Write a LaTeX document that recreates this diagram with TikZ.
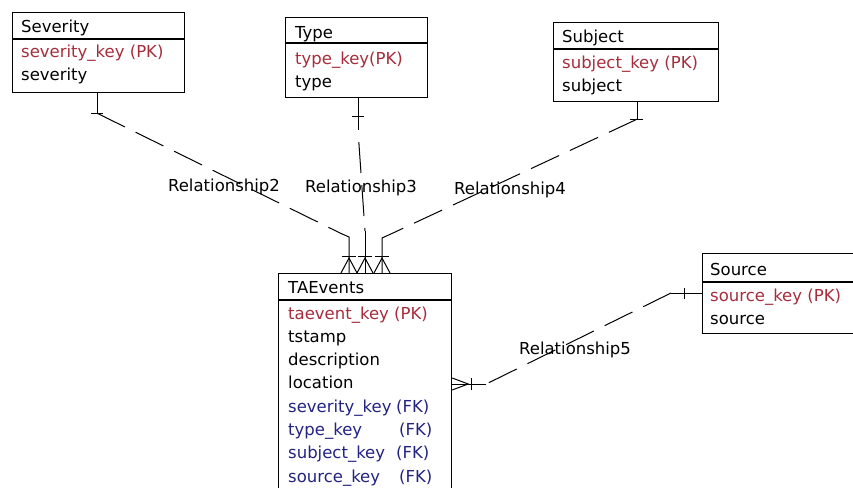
\documentclass[tikz,border=0pt]{standalone}
\usepackage{fontspec}
\setmainfont{DejaVu Sans}
\usetikzlibrary{calc}
\definecolor{pkred}{RGB}{165,45,60}
\definecolor{fkblue}{RGB}{35,35,130}
\begin{document}
\begin{tikzpicture}[x=1pt,y=-1pt,
  ent/.style={draw, line width=1.2pt, anchor=north west, inner sep=0pt},
  sepline/.style={line width=1.2pt},
  txt/.style={anchor=base west, inner sep=0pt, font=\fontsize{16.5}{18}\selectfont},
  pk/.style={txt, text=pkred},
  fk/.style={txt, text=fkblue},
  rel/.style={line width=1pt, dash pattern=on 31pt off 12pt},
  solidl/.style={line width=1pt},
  lab/.style={inner sep=0pt, font=\fontsize{16.5}{18}\selectfont}]
\useasboundingbox (0,0) rectangle (853,487);
\fill[white] (0,0) rectangle (853,487);
\clip (0,0) rectangle (853,487);

% ---------- entities ----------
\node[ent, minimum width=172pt, minimum height=80pt] (sev) at (12,12) {};
\draw[sepline] ($(sev.north west)+(0,27)$) -- ($(sev.north east)+(0,27)$);
\node[txt] (sevh) at (21,33) {Severity};
\node[pk]  (sev1) at (21,58) {severity\_key (PK)};
\node[txt] (sev2) at (21,81) {severity};

\node[ent, minimum width=142pt, minimum height=80pt] (typ) at (285,17) {};
\draw[sepline] ($(typ.north west)+(0,26)$) -- ($(typ.north east)+(0,26)$);
\node[txt] (typh) at (295,38) {Type};
\node[pk]  (typ1) at (295,64) {type\_key(PK)};
\node[txt] (typ2) at (295,87) {type};

\node[ent, minimum width=165pt, minimum height=79pt] (sub) at (553,22) {};
\draw[sepline] ($(sub.north west)+(0,27)$) -- ($(sub.north east)+(0,27)$);
\node[txt] (subh) at (562,42) {Subject};
\node[pk]  (sub1) at (562,68) {subject\_key (PK)};
\node[txt] (sub2) at (562,91) {subject};

\node[ent, minimum width=173pt, minimum height=230pt] (tae) at (278,273) {};
\draw[sepline] ($(tae.north west)+(0,27)$) -- ($(tae.north east)+(0,27)$);
\node[txt] (taeh) at (288,293) {TAEvents};
\node[pk]  (tae1) at (288,319) {taevent\_key (PK)};
\node[txt] (tae2) at (288,342) {tstamp};
\node[txt] (tae3) at (288,365) {description};
\node[txt] (tae4) at (288,388) {location};
\node[fk]  (tae5) at (288,412) {severity\_key};
\node[fk]  (tae5b) at (396,412) {(FK)};
\node[fk]  (tae6) at (288,435) {type\_key};
\node[fk]  (tae6b) at (399,435) {(FK)};
\node[fk]  (tae7) at (288,458) {subject\_key};
\node[fk]  (tae7b) at (396,458) {(FK)};
\node[fk]  (tae8) at (288,482) {source\_key};
\node[fk]  (tae8b) at (399,482) {(FK)};

\node[ent, minimum width=170pt, minimum height=80pt] (src) at (702,253) {};
\draw[sepline] ($(src.north west)+(0,29)$) -- ($(src.north east)+(0,29)$);
\node[txt] (srch) at (710,275) {Source};
\node[pk]  (src1) at (710,301) {source\_key (PK)};
\node[txt] (src2) at (710,324) {source};

% ---------- attach points ----------
\coordinate (sevB) at ($(sev.south west)+(85,0)$);
\coordinate (typB) at ($(typ.south west)+(73,0)$);
\coordinate (subB) at ($(sub.south west)+(84,0)$);
\coordinate (taeA) at ($(tae.north west)+(71,0)$);
\coordinate (taeB) at ($(tae.north west)+(87,0)$);
\coordinate (taeC) at ($(tae.north west)+(104,0)$);
\coordinate (taeR) at ($(tae.north east)+(0,111)$);
\coordinate (srcL) at ($(src.north west)+(0,40)$);

% ---------- Relationship2 : Severity -> TAEvents ----------
\draw[solidl] (sevB) -- ++(0,20) coordinate (sevS);
\draw[solidl] ($(sevS)+(-6,0)$) -- ($(sevS)+(6,0)$);
\coordinate (sevK) at ($(taeA)+(-9,-40)$);
\draw[rel] (sevS) -- (sevK);
\draw[solidl] (sevK) -- ($(taeA)+(0,-36)$) -- (taeA);
\draw[solidl] ($(taeA)+(-7,-17)$) -- ($(taeA)+(7,-17)$);
\draw[solidl] ($(taeA)+(-8,0)$) -- ($(taeA)+(0,-15)$) -- ($(taeA)+(8,0)$);

% ---------- Relationship3 : Type -> TAEvents ----------
\draw[solidl] (typB) -- ++(0,32) coordinate (typS);
\draw[solidl] ($(typB)+(-6,18)$) -- ($(typB)+(6,18)$);
\coordinate (typK) at ($(taeB)+(0,-42)$);
\draw[rel, dash phase=31pt] (typS) -- (typK);
\draw[solidl] (typK) -- (taeB);
\draw[solidl] ($(taeB)+(-7,-17)$) -- ($(taeB)+(7,-17)$);
\draw[solidl] ($(taeB)+(-8,0)$) -- ($(taeB)+(0,-15)$) -- ($(taeB)+(8,0)$);

% ---------- Relationship4 : Subject -> TAEvents ----------
\draw[solidl] (subB) -- ++(0,17) coordinate (subS);
\draw[solidl] ($(subS)+(-7,0)$) -- ($(subS)+(6,0)$);
\coordinate (subK) at ($(taeC)+(11,-40)$);
\draw[rel] (subS) -- (subK);
\draw[solidl] (subK) -- ($(taeC)+(0,-35)$) -- (taeC);
\draw[solidl] ($(taeC)+(-7,-17)$) -- ($(taeC)+(7,-17)$);
\draw[solidl] ($(taeC)+(-8,0)$) -- ($(taeC)+(0,-15)$) -- ($(taeC)+(8,0)$);

% ---------- Relationship5 : Source -> TAEvents ----------
\draw[solidl] (srcL) -- ++(-31,0) coordinate (srcS);
\draw[solidl] ($(srcL)+(-18,-5)$) -- ($(srcL)+(-18,6)$);
\coordinate (taeK) at ($(taeR)+(34,0)$);
\draw[rel] (srcS) -- (taeK);
\draw[solidl] (taeK) -- (taeR);
\draw[solidl] ($(taeR)+(19,-6)$) -- ($(taeR)+(19,6)$);
\draw[solidl] ($(taeR)+(0,-6)$) -- ($(taeR)+(16,0)$) -- ($(taeR)+(0,6)$);

% ---------- labels ----------
\node[lab] (l2) at (224,187) {Relationship2};
\node[lab] (l3) at (361,188) {Relationship3};
\node[lab] (l4) at (510,190) {Relationship4};
\node[lab] (l5) at (575,350) {Relationship5};
\end{tikzpicture}
\end{document}
